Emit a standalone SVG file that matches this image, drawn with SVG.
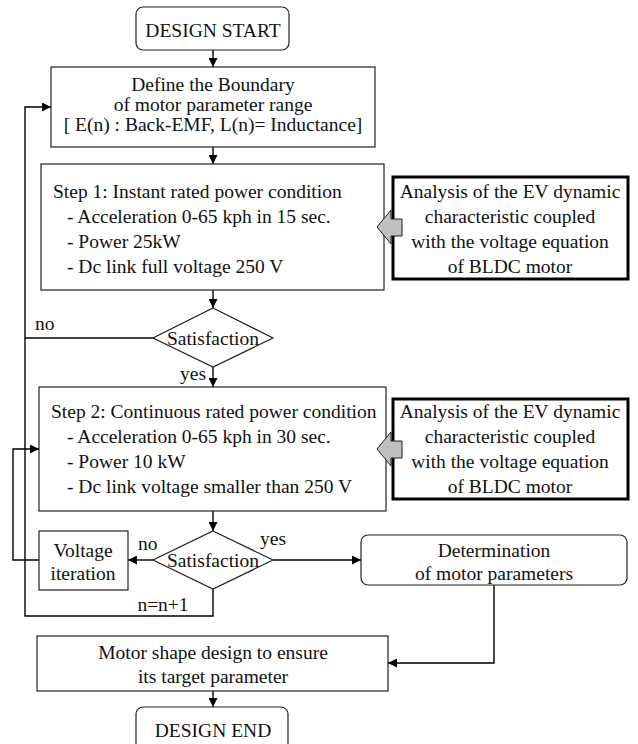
<svg xmlns="http://www.w3.org/2000/svg" width="638" height="744" viewBox="0 0 638 744">
  <style>
    .box { fill: #fff; stroke: #222; stroke-width: 1.2; }
    .thick { fill: #fff; stroke: #000; stroke-width: 3; }
    .line { fill: none; stroke: #000; stroke-width: 1.4; }
    .block { fill: #c0c0c0; stroke: #222; stroke-width: 1; }
    text { font-family: "Liberation Serif", "Times New Roman", serif; font-size: 19.5px; fill: #111; }
    .c { text-anchor: middle; }
  </style>
  <defs>
    <marker id="arr" viewBox="0 0 10 10" refX="10" refY="5" markerWidth="9" markerHeight="9" markerUnits="userSpaceOnUse" orient="auto">
      <path d="M0,0 L10,5 L0,10 z" fill="#000"/>
    </marker>
  </defs>

  <g id="connectors">
    <line class="line" x1="213" y1="50" x2="213" y2="67" marker-end="url(#arr)"/>
    <line class="line" x1="213" y1="147" x2="213" y2="164" marker-end="url(#arr)"/>
    <line class="line" x1="213" y1="290" x2="213" y2="308" marker-end="url(#arr)"/>
    <line class="line" x1="213" y1="367" x2="213" y2="387" marker-end="url(#arr)"/>
    <line class="line" x1="213" y1="511" x2="213" y2="531" marker-end="url(#arr)"/>
    <!-- outer loop back to the boundary definition -->
    <polyline class="line" points="213,589 213,616 25,616 25,107 51,107" marker-end="url(#arr)"/>
    <line class="line" x1="153" y1="338" x2="25" y2="338"/>
    <!-- voltage iteration loop -->
    <line class="line" x1="153" y1="560" x2="128" y2="560" marker-end="url(#arr)"/>
    <polyline class="line" points="39,560 13,560 13,449 39,449" marker-end="url(#arr)"/>
    <line class="line" x1="273" y1="560" x2="361" y2="560" marker-end="url(#arr)"/>
    <polyline class="line" points="494,585 494,663 388,663" marker-end="url(#arr)"/>
    <line class="line" x1="213" y1="691" x2="213" y2="707" marker-end="url(#arr)"/>
    <text x="35" y="330">no</text>
    <text x="180" y="380">yes</text>
    <text x="138" y="550">no</text>
    <text x="260" y="545">yes</text>
    <text x="163" y="611" class="c">n=n+1</text>
  </g>

  <g id="start">
    <rect class="box" x="136" y="7" width="153" height="43" rx="7"/>
    <text x="213" y="37" class="c">DESIGN START</text>
  </g>

  <g id="boundary">
    <rect class="box" x="51" y="67" width="324" height="80"/>
    <text x="213" y="91" class="c">Define the Boundary</text>
    <text x="213" y="111" class="c">of motor parameter range</text>
    <text x="213" y="131" class="c">[ E(n) : Back-EMF, L(n)= Inductance]</text>
  </g>

  <g id="step1">
    <rect class="box" x="41" y="164" width="343" height="126"/>
    <text x="53" y="198">Step 1: Instant rated power condition</text>
    <text x="67" y="223">-  Acceleration 0-65 kph in 15 sec.</text>
    <text x="67" y="248">-  Power 25kW</text>
    <text x="67" y="273">-  Dc link full voltage 250 V</text>
  </g>

  <g id="analysis1">
    <rect class="thick" x="393" y="177" width="235" height="102"/>
    <text x="510" y="198" class="c">Analysis of the EV dynamic</text>
    <text x="510" y="223" class="c">characteristic coupled</text>
    <text x="510" y="248" class="c">with the voltage equation</text>
    <text x="510" y="273" class="c">of BLDC motor</text>
    <polygon class="block" points="377,227 391,210 391,219 402,219 402,236 391,236 391,244"/>
  </g>

  <g id="check1">
    <polygon class="box" points="213,308 273,338 213,367 153,338"/>
    <text x="213" y="345" class="c">Satisfaction</text>
  </g>

  <g id="step2">
    <rect class="box" x="39" y="387" width="347" height="124"/>
    <text x="51" y="418">Step 2: Continuous rated power condition</text>
    <text x="67" y="443">-  Acceleration 0-65 kph in 30 sec.</text>
    <text x="67" y="468">-  Power 10 kW</text>
    <text x="67" y="493">-  Dc link voltage smaller than 250 V</text>
  </g>

  <g id="analysis2">
    <rect class="thick" x="393" y="399" width="235" height="100"/>
    <text x="510" y="418" class="c">Analysis of the EV dynamic</text>
    <text x="510" y="443" class="c">characteristic coupled</text>
    <text x="510" y="468" class="c">with the voltage equation</text>
    <text x="510" y="493" class="c">of BLDC motor</text>
    <polygon class="block" points="377,449 391,432 391,441 402,441 402,458 391,458 391,466"/>
  </g>

  <g id="check2">
    <polygon class="box" points="213,531 273,560 213,589 153,560"/>
    <text x="213" y="567" class="c">Satisfaction</text>
  </g>

  <g id="voltage-iteration">
    <rect class="box" x="39" y="531" width="89" height="59"/>
    <text x="83" y="557" class="c">Voltage</text>
    <text x="83" y="580" class="c">iteration</text>
  </g>

  <g id="determination">
    <rect class="box" x="361" y="535" width="266" height="50" rx="7"/>
    <text x="494" y="557" class="c">Determination</text>
    <text x="494" y="580" class="c">of motor parameters</text>
  </g>

  <g id="shape-design">
    <rect class="box" x="37" y="636" width="351" height="55"/>
    <text x="213" y="659" class="c">Motor shape design to ensure</text>
    <text x="213" y="683" class="c">its target parameter</text>
  </g>

  <g id="end">
    <rect class="box" x="136" y="707" width="152" height="45" rx="7"/>
    <text x="213" y="737" class="c">DESIGN END</text>
  </g>
</svg>
